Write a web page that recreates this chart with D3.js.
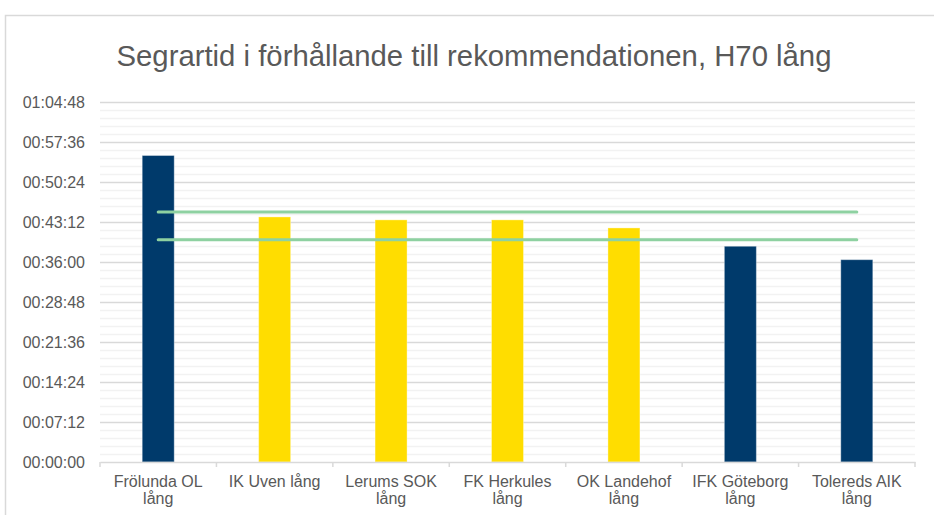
<!DOCTYPE html>
<html>
<head>
<meta charset="utf-8">
<script src="https://cdn.jsdelivr.net/npm/d3@7"></script>
<style>
  body { margin: 0; background: #fff; }
  text { font-family: "Liberation Sans", Arial, sans-serif; }
</style>
</head>
<body>
<div id="chart"></div>
<script>
// data (seconds)
var categories = ["Frölunda OL lång", "IK Uven lång", "Lerums SOK lång", "FK Herkules lång",
                  "OK Landehof lång", "IFK Göteborg lång", "Tolereds AIK lång"];
var winTimes = [3310, 2647, 2615, 2615, 2528, 2330, 2185];
var barColors = ["#003a6b", "#ffdd00", "#ffdd00", "#ffdd00", "#ffdd00", "#003a6b", "#003a6b"];
var recHigh = [2700, 2700, 2700, 2700, 2700, 2700, 2700];
var recLow = [2400, 2400, 2400, 2400, 2400, 2400, 2400];
var yTicks = [0, 432, 864, 1296, 1728, 2160, 2592, 3024, 3456, 3888];
var chartTitle = "Segrartid i förhållande till rekommendationen, H70 lång";

var W = 934, H = 515;
var mLeft = 100, mRight = 915, mTop = 102, mBottom = 462;

var svg = d3.select("#chart").append("svg")
  .attr("width", W).attr("height", H);

// chart frame
svg.append("path")
  .attr("d", "M5.5," + H + "V15.5H" + W)
  .attr("fill", "none").attr("stroke", "#d9d9d9").attr("stroke-width", 1.5);

svg.append("text")
  .attr("x", 474).attr("y", 66)
  .attr("text-anchor", "middle")
  .attr("font-size", 29.3)
  .attr("fill", "#595959")
  .text(chartTitle);

var x = d3.scaleBand().domain(categories).range([mLeft, mRight]).paddingInner(0).paddingOuter(0);
var y = d3.scaleLinear().domain([0, 3888]).range([mBottom, mTop]);

function fmt(s) {
  var h = Math.floor(s / 3600), m = Math.floor((s % 3600) / 60), sec = s % 60;
  return d3.format("02")(h) + ":" + d3.format("02")(m) + ":" + d3.format("02")(sec);
}

// minor gridlines
var minor = d3.range(0, 3888 + 1, 86.4).filter(function(v) { return Math.abs(v / 432 - Math.round(v / 432)) > 0.01; });
svg.append("g").selectAll("line").data(minor).enter().append("line")
  .attr("x1", mLeft).attr("x2", mRight)
  .attr("y1", function(d) { return Math.round(y(d)) + 0.5; })
  .attr("y2", function(d) { return Math.round(y(d)) + 0.5; })
  .attr("stroke", "#f2f2f2").attr("stroke-width", 1.5);

// major gridlines
svg.append("g").selectAll("line").data(yTicks.slice(1)).enter().append("line")
  .attr("x1", mLeft).attr("x2", mRight)
  .attr("y1", function(d) { return Math.round(y(d)) + 0.5; })
  .attr("y2", function(d) { return Math.round(y(d)) + 0.5; })
  .attr("stroke", "#d9d9d9").attr("stroke-width", 1.5);

// y axis labels
var yAxis = svg.append("g")
  .attr("transform", "translate(" + mLeft + ",0)")
  .call(d3.axisLeft(y).tickValues(yTicks).tickFormat(fmt).tickSize(0).tickPadding(15));
yAxis.select(".domain").remove();
yAxis.selectAll("text").attr("font-size", 16).attr("fill", "#595959")
  .attr("font-family", "Liberation Sans, Arial, sans-serif");

// bars
var bw = 32;
svg.append("g").selectAll("rect").data(winTimes).enter().append("rect")
  .attr("x", function(d, i) { return x(categories[i]) + x.bandwidth() / 2 - bw / 2; })
  .attr("y", function(d) { return y(d); })
  .attr("width", bw)
  .attr("height", function(d) { return y(0) - y(d); })
  .attr("fill", function(d, i) { return barColors[i]; })
  .attr("stroke", "rgba(255,255,255,0.35)").attr("stroke-width", 1);

// x axis
var xAxis = svg.append("g")
  .attr("transform", "translate(0," + mBottom + ")")
  .call(d3.axisBottom(x).tickSize(0).tickPadding(14));
xAxis.select(".domain").attr("stroke", "#d9d9d9").attr("stroke-width", 1.5);
xAxis.selectAll(".tick line").remove();
svg.append("g").selectAll("line").data(d3.range(categories.length + 1)).enter().append("line")
  .attr("x1", function(i) { return mLeft + i * x.bandwidth(); })
  .attr("x2", function(i) { return mLeft + i * x.bandwidth(); })
  .attr("y1", mBottom).attr("y2", mBottom + 5)
  .attr("stroke", "#d9d9d9").attr("stroke-width", 1.5);

xAxis.selectAll("text")
  .attr("font-size", 16).attr("fill", "#595959")
  .attr("font-family", "Liberation Sans, Arial, sans-serif")
  .each(function(d) {
    var t = d3.select(this);
    var words = d.split(" ");
    t.text(d);
    if (this.getComputedTextLength() > x.bandwidth() - 10) {
      var last = words.pop();
      t.text(null).attr("dy", null).attr("y", 25);
      t.append("tspan").attr("x", 0).attr("y", 25).text(words.join(" "));
      t.append("tspan").attr("x", 0).attr("y", 42).text(last);
    } else {
      t.attr("dy", null).attr("y", 25);
    }
  });

// recommendation lines
var line = d3.line()
  .x(function(d, i) { return x(categories[i]) + x.bandwidth() / 2; })
  .y(function(d) { return y(d); });
[recHigh, recLow].forEach(function(s) {
  svg.append("path").datum(s)
    .attr("d", line)
    .attr("fill", "none")
    .attr("stroke", "#8ed1a1")
    .attr("stroke-width", 3)
    .attr("stroke-linecap", "round");
});
</script>
</body>
</html>
